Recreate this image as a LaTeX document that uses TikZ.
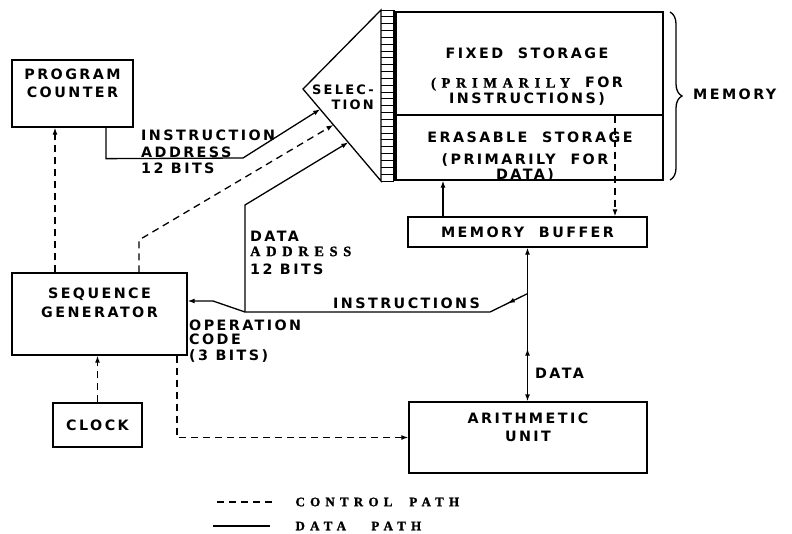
\documentclass[tikz,border=0pt]{standalone}
\usepackage{fontspec}
\usetikzlibrary{arrows.meta,positioning,calc,decorations.pathreplacing,decorations.markings}
\newfontfamily\lett{DejaVu Sans}[LetterSpace=17,UprightFont=*,BoldFont=* Bold]
\newfontfamily\serifb{Liberation Serif Bold}[LetterSpace=40,FakeBold=1.5]
\tikzset{
  box/.style={draw,line width=1.3pt,rectangle,inner sep=0pt},
  txt/.style={font=\lett\bfseries\fontsize{14.3}{18.5}\selectfont,inner sep=0pt},
  datapath/.style={line width=1.3pt},
  ctrlpath/.style={line width=1.3pt,dash pattern=on 7pt off 5pt},
  tip/.style={-{Latex[length=7pt,width=5pt]}},
  midtip/.style={postaction={decorate},decoration={markings,
      mark=at position #1 with {\arrow{Latex[length=7pt,width=5pt]}}}},
  midtipup/.style={postaction={decorate},decoration={markings,
      mark=at position #1 with {\arrowreversed{Latex[length=7pt,width=5pt]}}}},
}
\begin{document}
\begin{tikzpicture}[x=1pt,y=-1pt]
  \useasboundingbox (0,0) rectangle (792,533);
  % blocks
  \node[box,txt,align=center,minimum width=121pt,minimum height=67pt] (pc) at (72.5,93.5) {PROGRAM\\COUNTER\\[2pt]};
  \node[box,txt,align=center,minimum width=175pt,minimum height=82pt] (sg) at (99.5,314) {SEQUENCE\\GENERATOR\\[4pt]};
  \node[box,txt,minimum width=89pt,minimum height=44pt] (clk) at (97.5,425) {CLOCK};
  \node[box,txt,minimum width=239pt,minimum height=30pt] (mb) at (527.5,232) {MEMORY\ \ BUFFER};
  \node[box,txt,align=center,minimum width=238pt,minimum height=71pt] (au) at (528,437.5) {ARITHMETIC\\UNIT\\[2pt]};
  % memory
  \node[box,minimum width=267pt,minimum height=103pt] (fixed) at (529.5,63.5) {};
  \node[box,minimum width=267pt,minimum height=65pt] (erase) at (529.5,147.5) {};
  \node[txt] (fixedtxt) at (527,53) {FIXED\ \ STORAGE};
  \node[txt,align=center] (fixednote) at (527,91) {{\serifb (PRIMARILY}\ \ FOR\\[-3pt]INSTRUCTIONS)};
  \node[txt] (erasetxt) at (530,137) {ERASABLE\ \ STORAGE};
  \node[txt,align=center] (erasenote) at (525,167.5) {(PRIMARILY\ \ FOR\\[-4pt]DATA)};
  \draw[datapath,decorate,decoration={brace,amplitude=12pt}] (670,12) -- (670,180);
  \node[txt,anchor=west] (memlbl) at (693,94) {MEMORY};
  % selection
  \coordinate (selA) at (303,89);
  \coordinate (selT) at (381,10);
  \coordinate (selB) at (381,181);
  \draw[datapath,line join=miter] (selB) -- (selA) -- (selT) -- cycle;
  \draw[datapath] (394,10) -- (394,181);
  \foreach \k in {0,...,25}
    \draw[line width=1pt] (381,{10+\k*6.84}) -- (394,{10+\k*6.84});
  \node[txt,font=\lett\bfseries\fontsize{13}{17}\selectfont,align=right] (sel) at (343,97) {SELEC-\\[-2pt]TION};
  \coordinate (inA) at ($(selA)!0.22!(selB)$);
  \coordinate (ctA) at ($(selA)!0.39!(selB)$);
  \coordinate (daA) at ($(selA)!0.58!(selB)$);
  % data paths
  \coordinate (split) at (245,312);
  \coordinate (J) at ($(mb.south)+(0,46)$);
  \draw[datapath,tip] ([xshift=33.5pt]pc.south) -- ++(0,31) -- (243,158) -- (inA);
  \draw[datapath,tip] (split) -- (245,205) -- (daA);
  \draw[datapath,tip,midtip=22pt] (J) -- (490,312) -- (split) -- (213,301) -- ([yshift=13pt]sg.east);
  \draw[datapath,{Latex[length=7pt,width=5pt]}-{Latex[length=7pt,width=5pt]},midtipup=101pt] (mb.south) -- (mb.south |- au.north);
  \coordinate (mbup) at ([xshift=-84.5pt]mb.north);
  \draw[datapath,tip] (mbup) -- (mbup |- erase.south);
  % control paths
  \coordinate (dtop) at ([xshift=85.5pt]fixed.south);
  \draw[ctrlpath,tip] (dtop) -- (dtop |- mb.north);
  \draw[ctrlpath,tip] ([xshift=-44.5pt]sg.north) -- ([xshift=-17.5pt]pc.south);
  \draw[ctrlpath,tip] ([xshift=39.5pt]sg.north) -- (139,240) -- (ctA);
  \draw[ctrlpath,tip] (clk.north) -- (clk.north |- sg.south);
  \draw[ctrlpath,tip] ([xshift=77.5pt]sg.south) |- (au.west);
  % labels
  \node[txt,anchor=west,align=left] (instaddr) at (141,152) {INSTRUCTION\\[-2pt]ADDRESS\\[-2pt]12 BITS};
  \node[txt,anchor=west,align=left] (dataaddr) at (250,253) {DATA\\[-4pt]{\serifb ADDRESS}\\12 BITS};
  \node[txt,anchor=base west] (instrlbl) at (333,308) {INSTRUCTIONS};
  \node[txt,anchor=north west,align=left] (opcode) at (189,320) {OPERATION\\[-5pt]CODE\\[-2pt](3 BITS)};
  \node[txt,anchor=west] (datalbl) at (535,373) {DATA};
  % legend
  \coordinate (ctrlA) at (217,502);
  \coordinate (dataA) at (213,526);
  \draw[ctrlpath] (ctrlA) -- ++(58,0);
  \draw[datapath] (dataA) -- ++(57,0);
  \node[font=\serifb\fontsize{13}{15}\selectfont,anchor=west] (ctrllbl) at (292,502) {CONTROL\ \ PATH};
  \node[font=\serifb\fontsize{13}{15}\selectfont,anchor=west] (datalbl2) at (292,526) {DATA\ \ \ PATH};
\end{tikzpicture}
\end{document}
